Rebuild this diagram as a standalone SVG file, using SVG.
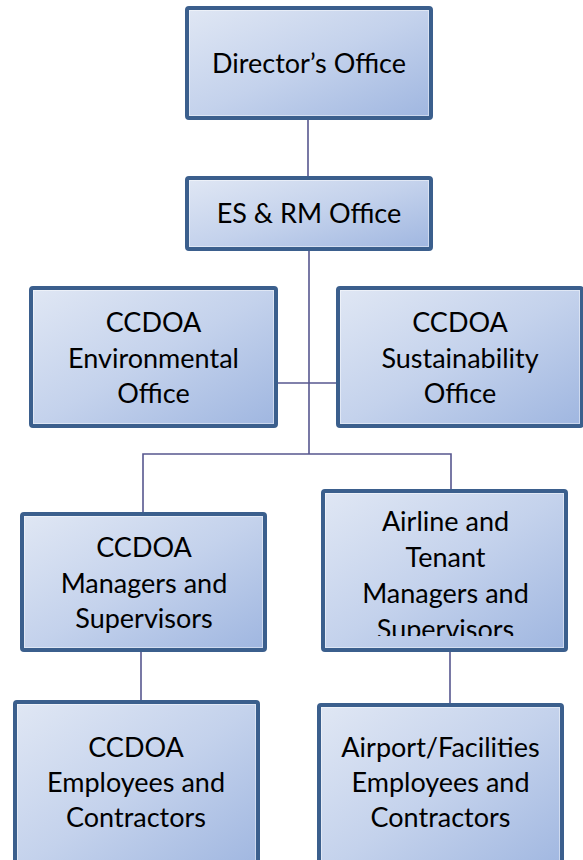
<svg xmlns="http://www.w3.org/2000/svg" width="583" height="860" viewBox="0 0 583 860">
  <defs>
    <linearGradient id="fill" x1="0" y1="0" x2="1" y2="1">
      <stop offset="0" stop-color="#e0e7f4"/>
      <stop offset="0.5" stop-color="#c4d2ec"/>
      <stop offset="1" stop-color="#9fb6e0"/>
    </linearGradient>
    <clipPath id="clipAirline">
      <rect x="323" y="491" width="243" height="145"/>
    </clipPath>
  </defs>
  <style>
    .box { fill: url(#fill); stroke: #3b5f8d; stroke-width: 4; }
    .inner { fill: none; stroke: #ffffff; stroke-opacity: 0.45; stroke-width: 1; }
    .conn { stroke: #57578f; stroke-width: 1.6; fill: none; }
    text { font-family: Lato, "Open Sans", "Liberation Sans", sans-serif; font-size: 27px; fill: #000000; text-anchor: middle; }
  </style>

  <g id="connectors">
    <line class="conn" x1="308" y1="120" x2="308" y2="176"/>
    <line class="conn" x1="309" y1="251" x2="309" y2="454"/>
    <line class="conn" x1="278" y1="383" x2="336" y2="383"/>
    <polyline class="conn" points="143,512 143,454 451,454 451,489"/>
    <line class="conn" x1="141" y1="652" x2="141" y2="700"/>
    <line class="conn" x1="450" y1="652" x2="450" y2="703"/>
  </g>

  <g id="directors-office">
    <rect class="box" x="187" y="8" width="244" height="110" rx="2"/>
    <rect class="inner" x="189.5" y="10.5" width="239" height="105"/>
    <text x="309" y="73">Director’s Office</text>
  </g>

  <g id="es-rm-office">
    <rect class="box" x="187" y="178" width="244" height="71" rx="2"/>
    <rect class="inner" x="189.5" y="180.5" width="239" height="66"/>
    <text x="309" y="223">ES &amp; RM Office</text>
  </g>

  <g id="environmental-office">
    <rect class="box" x="31" y="288" width="245" height="138" rx="2"/>
    <rect class="inner" x="33.5" y="290.5" width="240" height="133"/>
    <text x="153.5" y="332">CCDOA</text>
    <text x="153.5" y="367.5">Environmental</text>
    <text x="153.5" y="403">Office</text>
  </g>

  <g id="sustainability-office">
    <rect class="box" x="338" y="288" width="244" height="138" rx="2"/>
    <rect class="inner" x="340.5" y="290.5" width="239" height="133"/>
    <text x="460" y="332">CCDOA</text>
    <text x="460" y="367.5">Sustainability</text>
    <text x="460" y="403">Office</text>
  </g>

  <g id="ccdoa-managers">
    <rect class="box" x="22" y="514" width="243" height="136" rx="2"/>
    <rect class="inner" x="24.5" y="516.5" width="238" height="131"/>
    <text x="144" y="557">CCDOA</text>
    <text x="144" y="592.5">Managers and</text>
    <text x="144" y="628">Supervisors</text>
  </g>

  <g id="airline-tenant-managers">
    <rect class="box" x="323" y="491" width="243" height="159" rx="2"/>
    <rect class="inner" x="325.5" y="493.5" width="238" height="154"/>
    <g clip-path="url(#clipAirline)">
      <text x="445.5" y="531">Airline and</text>
      <text x="445.5" y="566.5">Tenant</text>
      <text x="445.5" y="602.5">Managers and</text>
      <text x="445.5" y="638.5">Supervisors</text>
    </g>
  </g>

  <g id="ccdoa-employees">
    <rect class="box" x="15" y="702" width="243" height="170" rx="2"/>
    <rect class="inner" x="17.5" y="704.5" width="238" height="165"/>
    <text x="136" y="757">CCDOA</text>
    <text x="136" y="792">Employees and</text>
    <text x="136" y="827">Contractors</text>
  </g>

  <g id="airport-facilities-employees">
    <rect class="box" x="319" y="705" width="243" height="170" rx="2"/>
    <rect class="inner" x="321.5" y="707.5" width="238" height="165"/>
    <text x="440.5" y="757">Airport/Facilities</text>
    <text x="440.5" y="792">Employees and</text>
    <text x="440.5" y="827">Contractors</text>
  </g>
</svg>
